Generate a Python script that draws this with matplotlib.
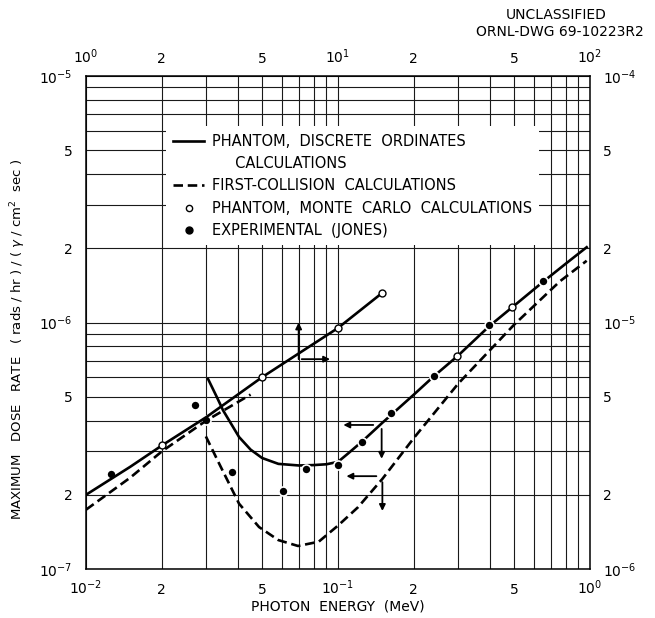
import matplotlib
matplotlib.use("Agg")
import matplotlib.pyplot as plt
from matplotlib.lines import Line2D

# ---------------- data ----------------
# Bottom (MeV, 1e-2..1e0) / left (1e-7..1e-5) axes
low_do_E = [0.0305, 0.033, 0.035, 0.0405, 0.045, 0.05, 0.058, 0.07, 0.08, 0.09,
            0.1, 0.11, 0.125, 0.15, 0.2, 0.24, 0.3, 0.4, 0.5, 0.65, 0.8, 0.97]
low_do_D = [5.9e-7, 5.0e-7, 4.4e-7, 3.43e-7, 3.05e-7, 2.82e-7, 2.67e-7, 2.63e-7,
            2.64e-7, 2.66e-7, 2.72e-7, 2.95e-7, 3.3e-7, 3.92e-7, 5.1e-7, 6.05e-7,
            7.35e-7, 9.7e-7, 1.17e-6, 1.46e-6, 1.73e-6, 2.02e-6]

low_fc_E = [0.0299, 0.0338, 0.0405, 0.0486, 0.058, 0.0694, 0.0838, 0.1, 0.12,
            0.15, 0.2, 0.3, 0.5, 0.76, 0.97]
low_fc_D = [3.45e-7, 2.67e-7, 1.84e-7, 1.48e-7, 1.31e-7, 1.24e-7, 1.29e-7, 1.5e-7,
            1.78e-7, 2.32e-7, 3.4e-7, 5.65e-7, 9.8e-7, 1.47e-6, 1.78e-6]

low_mc_E = [0.297, 0.49]
low_mc_D = [7.33e-7, 1.16e-6]

jones_E = [0.0126, 0.0271, 0.0299, 0.0381, 0.0603, 0.0745, 0.0997, 0.124, 0.163,
           0.24, 0.398, 0.65]
jones_D = [2.42e-7, 4.64e-7, 4.02e-7, 2.47e-7, 2.08e-7, 2.55e-7, 2.63e-7, 3.27e-7,
           4.28e-7, 6.05e-7, 9.8e-7, 1.48e-6]

# Top (MeV, 1..100) / right (1e-6..1e-4) axes
high_do_E = [1, 1.5, 2, 3, 5, 7, 10, 15]
high_do_D = [2.0e-6, 2.6e-6, 3.17e-6, 4.13e-6, 6.0e-6, 7.5e-6, 9.5e-6, 1.32e-5]

high_fc_E = [1, 1.5, 2, 3, 4.5]
high_fc_D = [1.74e-6, 2.35e-6, 3.0e-6, 4.0e-6, 5.1e-6]

high_mc_E = [2, 5, 10, 15]
high_mc_D = [3.17e-6, 6.0e-6, 9.5e-6, 1.32e-5]

# arrows (annotation: start -> end, bottom/left data coordinates)
arrows = [((0.0698, 7.1e-7), (0.0698, 1.0e-6)),
          ((0.0718, 7.1e-7), (0.093, 7.1e-7)),
          ((0.138, 3.84e-7), (0.105, 3.84e-7)),
          ((0.149, 3.7e-7), (0.149, 2.8e-7)),
          ((0.142, 2.38e-7), (0.108, 2.38e-7)),
          ((0.150, 2.25e-7), (0.150, 1.72e-7))]

legend_labels = ["PHANTOM,  DISCRETE  ORDINATES",
                 "     CALCULATIONS",
                 "FIRST-COLLISION  CALCULATIONS",
                 "PHANTOM,  MONTE  CARLO  CALCULATIONS",
                 "EXPERIMENTAL  (JONES)"]

bottom_decades = [-2, -1, 0]
top_decades = [0, 1, 2]
left_decades = [-7, -6, -5]
right_decades = [-6, -5, -4]


def log_ticks(decades):
    pos, lab = [], []
    for i, d in enumerate(decades):
        ks = range(1, 10) if i < len(decades) - 1 else [1]
        for k in ks:
            pos.append(k * 10.0 ** d)
            if k == 1:
                lab.append(r"$10^{%d}$" % d)
            elif k in (2, 5):
                lab.append(str(k))
            else:
                lab.append("")
    return pos, lab


# ---------------- figure ----------------
fig = plt.figure(figsize=(6.55, 6.18), dpi=100)
rect = [86 / 655, 1 - 569 / 618, 504 / 655, 493 / 618]
ax = fig.add_axes(rect)
ax2 = fig.add_axes(rect, frameon=False)

ax.set_xscale("log"); ax.set_yscale("log")
ax2.set_xscale("log"); ax2.set_yscale("log")
ax.set_xlim(10.0 ** bottom_decades[0], 10.0 ** bottom_decades[-1])
ax.set_ylim(10.0 ** left_decades[0], 10.0 ** left_decades[-1])
ax2.set_xlim(10.0 ** top_decades[0], 10.0 ** top_decades[-1])
ax2.set_ylim(10.0 ** right_decades[0], 10.0 ** right_decades[-1])

fs_tick = 10
bx, bl = log_ticks(bottom_decades)
ly, ll = log_ticks(left_decades)
tx, tl = log_ticks(top_decades)
ry, rl = log_ticks(right_decades)

ax.set_xticks(bx)
ax.set_xticklabels(bl, va="baseline", fontsize=fs_tick)
ax.set_yticks(ly)
ax.set_yticklabels(ll, fontsize=fs_tick)
ax.minorticks_off()
ax.tick_params(axis="x", length=0, pad=18)
ax.tick_params(axis="y", length=0, pad=9.5)
ax.grid(True, which="major", color="#1a1a1a", lw=0.8)

ax2.xaxis.tick_top(); ax2.yaxis.tick_right()
ax2.set_xticks(tx)
ax2.set_xticklabels(tl, va="baseline", fontsize=fs_tick)
ax2.set_yticks(ry)
ax2.set_yticklabels(rl, fontsize=fs_tick)
ax2.minorticks_off()
ax2.tick_params(axis="x", length=0, pad=9.5)
ax2.tick_params(axis="y", length=0, pad=9.5)
ax2.patch.set_visible(False)

for s in ax.spines.values():
    s.set_linewidth(1.1)
    s.set_color("black")

lw = 1.9
dash = (0, (3.6, 1.8))

# bottom/left curves
ax.plot(low_do_E, low_do_D, color="black", lw=lw, zorder=3)
ax.plot(low_fc_E, low_fc_D, color="black", lw=lw, ls=dash, zorder=3)
ax.plot(low_mc_E, low_mc_D, ls="none", marker="o", ms=5, mfc="white",
        mec="black", mew=1.0, zorder=4)
ax.plot(jones_E, jones_D, ls="none", marker="o", ms=6.5, mfc="black",
        mec="white", mew=1.2, zorder=4)

# top/right curves
ax2.plot(high_do_E, high_do_D, color="black", lw=lw, zorder=3)
ax2.plot(high_fc_E, high_fc_D, color="black", lw=lw, ls=dash, zorder=3)
ax2.plot(high_mc_E, high_mc_D, ls="none", marker="o", ms=5, mfc="white",
         mec="black", mew=1.0, zorder=4)

for (x0, y0), (x1, y1) in arrows:
    ax.annotate("", xy=(x1, y1), xytext=(x0, y0),
                arrowprops=dict(arrowstyle="-|>", lw=1.3, color="black",
                                mutation_scale=9, shrinkA=0, shrinkB=0),
                zorder=5)

# legend
handles = [Line2D([], [], color="black", lw=lw),
           Line2D([], [], ls="none"),
           Line2D([], [], color="black", lw=lw, ls=dash),
           Line2D([], [], ls="none", marker="o", ms=4.5, mfc="white",
                  mec="black", mew=1.0),
           Line2D([], [], ls="none", marker="o", ms=5, mfc="black", mec="black")]
leg = ax2.legend(handles, legend_labels, loc="upper left",
                 bbox_to_anchor=(0.1587, 0.8976), borderaxespad=0,
                 fontsize=10.5, handlelength=2.1, handletextpad=0.55,
                 labelspacing=0.5, borderpad=0.5, frameon=True,
                 fancybox=False, framealpha=1, facecolor="white",
                 edgecolor="none")

# axis labels
ax.set_xlabel("PHOTON  ENERGY  (MeV)", fontsize=10)
ax.xaxis.set_label_coords(0.5, (569 - 607) / 493)
ax.xaxis.label.set_verticalalignment("center")
ax.set_ylabel(r"MAXIMUM   DOSE   RATE   ( rads / hr ) / ( $\gamma$ / cm$^2$  sec )",
              fontsize=9.5)
ax.yaxis.set_label_coords(-0.115, 0.465)

fig.text(556 / 655, 1 - 15 / 618, "UNCLASSIFIED", ha="center", va="center",
         fontsize=10)
fig.text(560 / 655, 1 - 32 / 618, "ORNL-DWG 69-10223R2", ha="center",
         va="center", fontsize=10)

fig.savefig("out.png", dpi=100)
